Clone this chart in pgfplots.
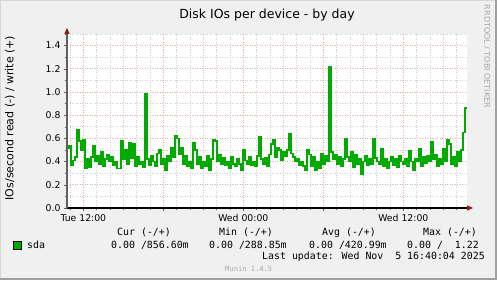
\documentclass[border=0pt]{standalone}
\usepackage{fontspec}
\setmainfont{DejaVu Sans}
\newfontfamily\monofont{DejaVu Sans Mono}
\usepackage{pgfplots}
\usepackage{pgfplotstable}
\pgfplotsset{compat=1.18}
\usetikzlibrary{arrows.meta}
\definecolor{bgc}{HTML}{F0F0F0}
\definecolor{ioc}{HTML}{00AA00}
\definecolor{mgrid}{HTML}{E8A8A8}
\definecolor{ngrid}{HTML}{CCCCCC}
\definecolor{arrowc}{HTML}{8B1A1A}
\definecolor{axgray}{HTML}{606060}
\definecolor{wmgray}{HTML}{A8A8A8}

\pgfplotstableread{
x y
10.80 0.52
10.95 0.54
11.10 0.37
11.25 0.41
11.40 0.44
11.55 0.67
11.70 0.58
11.85 0.50
12.00 0.59
12.15 0.34
12.30 0.42
12.45 0.35
12.60 0.44
12.75 0.54
12.90 0.40
13.05 0.45
13.20 0.38
13.35 0.48
13.50 0.36
13.65 0.42
13.80 0.46
13.95 0.40
14.10 0.44
14.25 0.37
14.40 0.40
14.55 0.34
14.70 0.34
14.85 0.58
15.00 0.42
15.15 0.50
15.30 0.38
15.45 0.56
15.60 0.43
15.75 0.55
15.90 0.36
16.05 0.44
16.20 0.38
16.35 0.40
16.50 0.35
16.65 0.98
16.80 0.42
16.95 0.37
17.10 0.45
17.25 0.40
17.40 0.36
17.55 0.47
17.70 0.50
17.85 0.38
18.00 0.42
18.15 0.33
18.30 0.45
18.45 0.40
18.60 0.52
18.75 0.44
18.90 0.62
19.05 0.60
19.20 0.46
19.35 0.52
19.50 0.38
19.65 0.45
19.80 0.36
19.95 0.40
20.10 0.34
20.25 0.56
20.40 0.50
20.55 0.38
20.70 0.44
20.85 0.34
21.00 0.40
21.15 0.36
21.30 0.45
21.45 0.33
21.60 0.42
21.75 0.59
21.90 0.58
22.05 0.40
22.20 0.46
22.35 0.38
22.50 0.43
22.65 0.37
22.80 0.40
22.95 0.34
23.10 0.44
23.25 0.38
23.40 0.36
23.55 0.42
23.70 0.38
23.85 0.33
24.00 0.50
24.15 0.41
24.30 0.38
24.45 0.44
24.60 0.37
24.75 0.40
24.90 0.36
25.05 0.45
25.20 0.61
25.35 0.42
25.50 0.38
25.65 0.43
25.80 0.36
25.95 0.46
26.10 0.55
26.25 0.59
26.40 0.44
26.55 0.52
26.70 0.50
26.85 0.41
27.00 0.48
27.15 0.45
27.30 0.50
27.45 0.64
27.60 0.47
27.75 0.44
27.90 0.40
28.05 0.42
28.20 0.37
28.35 0.40
28.50 0.36
28.65 0.33
28.80 0.50
28.95 0.46
29.10 0.36
29.25 0.44
29.40 0.33
29.55 0.40
29.70 0.34
29.85 0.47
30.00 0.38
30.15 0.45
30.30 0.40
30.45 1.22
30.60 0.48
30.75 0.42
30.90 0.46
31.05 0.38
31.20 0.44
31.35 0.36
31.50 0.42
31.65 0.60
31.80 0.44
31.95 0.40
32.10 0.48
32.25 0.35
32.40 0.46
32.55 0.38
32.70 0.42
32.85 0.29
33.00 0.40
33.15 0.45
33.30 0.37
33.45 0.42
33.60 0.38
33.75 0.60
33.90 0.43
34.05 0.40
34.20 0.38
34.35 0.51
34.50 0.36
34.65 0.42
34.80 0.34
34.95 0.40
35.10 0.44
35.25 0.37
35.40 0.42
35.55 0.35
35.70 0.45
35.85 0.40
36.00 0.38
36.15 0.42
36.30 0.36
36.45 0.49
36.60 0.40
36.75 0.33
36.90 0.42
37.05 0.40
37.20 0.51
37.35 0.36
37.50 0.44
37.65 0.39
37.80 0.45
37.95 0.40
38.10 0.57
38.25 0.42
38.40 0.46
38.55 0.36
38.70 0.42
38.85 0.38
39.00 0.51
39.15 0.40
39.30 0.59
39.45 0.55
39.60 0.38
39.75 0.44
39.90 0.36
40.05 0.48
40.20 0.40
40.35 0.50
40.50 0.65
40.65 0.86
40.775 0.86
}\iodata

\begin{document}
\begin{tikzpicture}[x=1bp,y=1bp]
\useasboundingbox (0,0) rectangle (497,280);
\fill[bgc] (0,0) rectangle (497,280);
\draw[color={rgb,255:red,215;green,215;blue,215}, line width=1bp] (0.5,0) -- (0.5,279.5) -- (497,279.5);
\draw[color={rgb,255:red,160;green,160;blue,160}, line width=2bp] (0,1) -- (496,1) -- (496,280);

\begin{axis}[
  at={(67bp,72bp)}, anchor=south west, scale only axis,
  width=400bp, height=174bp,
  xmin=10.775, xmax=40.775, ymin=0, ymax=1.5,
  axis lines=left, axis line style={draw=none},
  axis background/.style={fill=white},
  clip=false,
  xtick={12,18,24,30,36},
  xticklabels={Tue 12:00,,Wed 00:00,,Wed 12:00},
  minor xtick={11,13,14,15,16,17,19,20,21,22,23,25,26,27,28,29,31,32,33,34,35,37,38,39,40},
  ytick={0,0.2,0.4,0.6,0.8,1.0,1.2,1.4},
  minor ytick={0.1,0.3,0.5,0.7,0.9,1.1,1.3,1.5},
  grid=both,
  major grid style={draw=mgrid, dash pattern=on 1bp off 1.5bp, line width=0.8bp},
  minor grid style={draw=ngrid, dash pattern=on 1bp off 1.5bp, line width=0.8bp},
  tick style={draw=axgray, line width=0.6bp},
  tick align=outside, major tick length=3bp, minor tick length=2bp,
  /pgf/number format/assume math mode=true,
  yticklabel style={/pgf/number format/.cd, fixed, fixed zerofill, precision=1, /tikz/.cd},
  ticklabel style={font=\fontsize{9.3bp}{11bp}\selectfont},
]
\addplot[const plot, draw=ioc, line width=1.7bp, line join=miter] table {\iodata};
\addplot[black, line width=1.8bp] coordinates {(10.775,0) (40.775,0)};
\draw[draw=axgray, line width=1.2bp] (axis cs:10.775,0) -- (axis cs:10.775,1.5);
\coordinate (ytop) at (axis cs:10.775,1.5);
\coordinate (xend) at (axis cs:40.775,0);
\end{axis}
\fill[arrowc] ([xshift=-2.7bp]ytop) -- ([xshift=2.7bp]ytop) -- ([yshift=6bp]ytop) -- cycle;
\fill[arrowc] ([yshift=-2.7bp]xend) -- ([yshift=2.7bp]xend) -- ([xshift=6bp]xend) -- cycle;

\node[font=\fontsize{12.5bp}{14bp}\selectfont, anchor=base] at (267,262) {Disk IOs per device - by day};
\node[rotate=90, font=\fontsize{11bp}{13bp}\selectfont] at (10,162) {IOs/second read (-) / write (+)};
\node[rotate=-90, font=\fontsize{8bp}{10bp}\selectfont, text=wmgray] at (487,223.5) {RRDTOOL / TOBI OETIKER};

\begin{scope}[every node/.style={inner sep=0pt, anchor=base west, font=\monofont\fontsize{9.9bp}{12bp}\selectfont}]
\node at (117,45) {Cur (-/+)};
\node at (219,45) {Min (-/+)};
\node at (322,45) {Avg (-/+)};
\node at (423,45) {Max (-/+)};
\filldraw[fill=ioc, draw=black, line width=0.6bp] (13,31) rectangle (21,39);
\node at (27,32) {sda};
\node at (111,32) {0.00 /856.60m};
\node at (209,32) {0.00 /288.85m};
\node at (309,32) {0.00 /420.99m};
\node at (407,32) {0.00 /\ \ 1.22};
\node at (262,20.7) {Last update: Wed Nov\ \ 5 16:40:04 2025};
\node[font=\monofont\fontsize{7.1bp}{9bp}\selectfont, text=wmgray] at (225,8.3) {Munin 1.4.5};
\end{scope}
\end{tikzpicture}
\end{document}
